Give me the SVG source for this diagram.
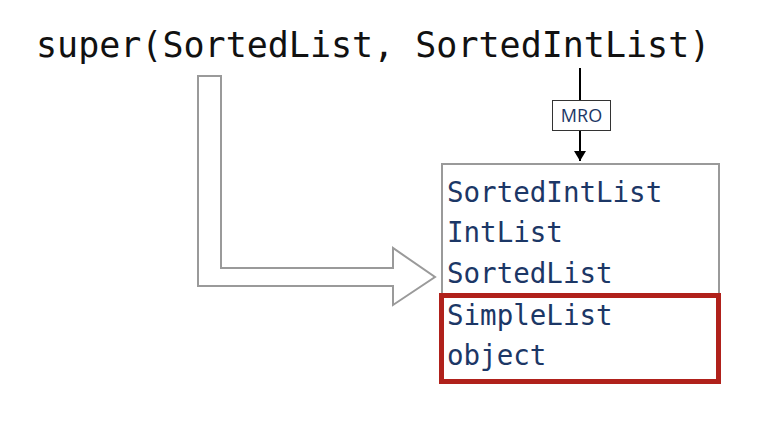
<svg xmlns="http://www.w3.org/2000/svg" width="767" height="429" viewBox="0 0 767 429">
<style>
.title{font-family:"DejaVu Sans Mono","Liberation Mono",monospace;font-size:35px;fill:#111}
.item{font-family:"DejaVu Sans Mono","Liberation Mono",monospace;font-size:27.5px;fill:#1c3766}
.lbl{font-family:"Open Sans","Liberation Sans",sans-serif;font-size:18px;fill:#1c3766}
</style>
<defs>
<marker id="ah" markerWidth="12" markerHeight="14" refX="10" refY="7" orient="auto" markerUnits="userSpaceOnUse">
<path d="M0,1 L10,7 L0,13 Z" fill="#000"/>
</marker>
</defs>
<rect width="767" height="429" fill="#fff"/>
<g id="title"><text class="title" x="36" y="57">super(SortedList, SortedIntList)</text></g>
<g id="connectors">
<line x1="580" y1="68" x2="580" y2="100" stroke="#000" stroke-width="2"/>
<line x1="580" y1="131" x2="580" y2="161" stroke="#000" stroke-width="2" marker-end="url(#ah)"/>
<polygon points="198,76 221,76 221,268 393,268 393,248 435,277 393,305 393,286 198,286" fill="#fff" stroke="#9a9a9a" stroke-width="2"/>
</g>
<g id="mro-label">
<rect x="552.5" y="100.5" width="58" height="30" fill="#fff" stroke="#333" stroke-width="1"/>
<text class="lbl" x="581.5" y="122" text-anchor="middle">MRO</text>
</g>
<g id="mro-list">
<rect x="442" y="164" width="277" height="130" fill="#fff" stroke="#9a9a9a" stroke-width="2"/>
<text class="item" x="447" y="202">SortedIntList</text>
<text class="item" x="447" y="242">IntList</text>
<text class="item" x="447" y="283">SortedList</text>
</g>
<g id="highlight">
<rect x="441.5" y="295.5" width="277" height="86" fill="none" stroke="#b0211b" stroke-width="5"/>
<text class="item" x="447" y="325">SimpleList</text>
<text class="item" x="447" y="365">object</text>
</g>
</svg>
